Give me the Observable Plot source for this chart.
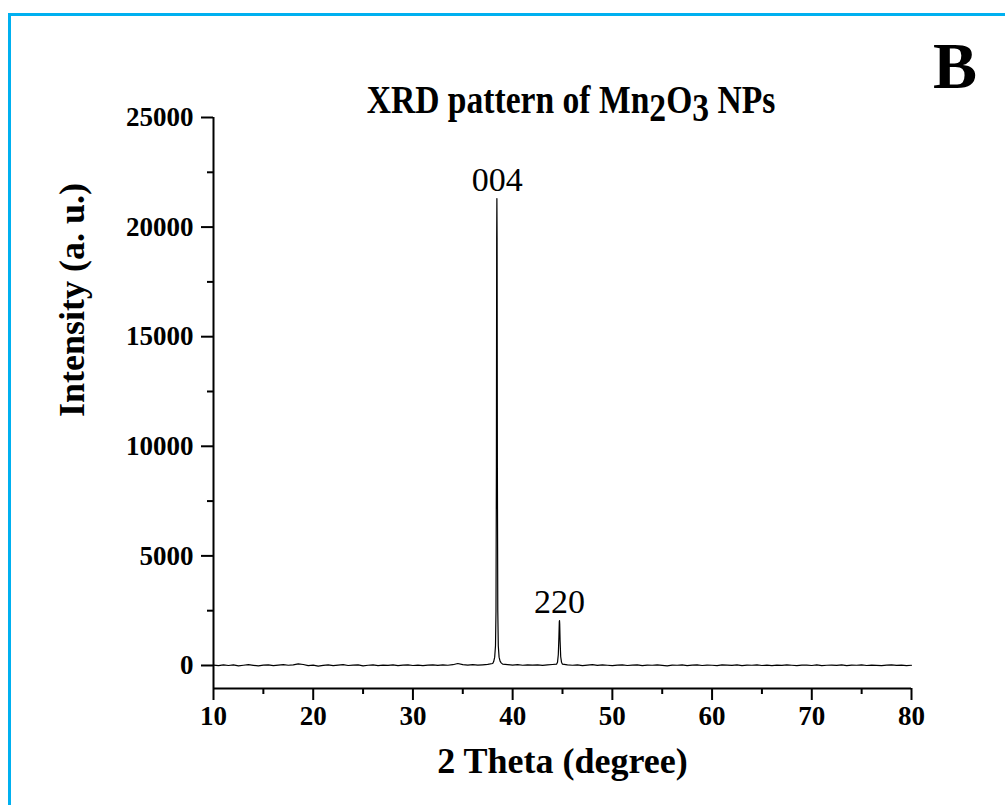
<!DOCTYPE html>
<html><head><meta charset="utf-8">
<script src="https://cdn.jsdelivr.net/npm/d3@7"></script>
<script src="https://cdn.jsdelivr.net/npm/@observablehq/plot@0.6"></script>
<style>body{margin:0;background:#fff} svg{display:block}</style>
</head><body><div id="chart"></div><script>
// Baseline segments (2θ in degrees, intensity in counts)
const base1X = [10,10.5,11,11.5,12,12.5,13,13.5,14,14.5,15,15.5,16,16.5,17,17.5,18,18.5,19,19.5,20,20.5,21,21.5,22,22.5,23,23.5,24,24.5,25,25.5,26,26.5,27,27.5,28,28.5,29,29.5,30,30.5,31,31.5,32,32.5,33,33.5,34,34.5,35,35.5,36,36.5,37,37.5];
const base1Y = [20,-10,30,0,25,-15,10,35,5,-20,15,30,-5,20,40,10,25,70,45,-10,15,-30,5,25,-10,20,35,0,15,30,-15,10,25,-5,20,5,30,-10,15,25,0,20,-10,15,30,5,25,10,35,90,40,20,35,15,30,50];
const peak004X = [38.0,38.1,38.2,38.28,38.33,38.37,38.40,38.42,38.44,38.47,38.51,38.56,38.64,38.74,38.85,39.0];
const peak004Y = [90,180,380,900,2500,9000,19500,21300,19500,9000,2500,900,380,200,120,60];
const base2X = [39.5,40,40.5,41,41.5,42,42.5,43,43.5,44];
const base2Y = [40,20,35,10,30,15,25,5,30,45];
const peak220X = [44.4,44.5,44.58,44.64,44.68,44.7,44.72,44.76,44.82,44.9,45.0];
const peak220Y = [60,150,500,1300,2000,2050,1900,1100,400,150,60];
const base3X = [45.5,46,46.5,47,47.5,48,48.5,49,49.5,50,50.5,51,51.5,52,52.5,53,53.5,54,54.5,55,55.5,56,56.5,57,57.5,58,58.5,59,59.5,60,60.5,61,61.5,62,62.5,63,63.5,64,64.5,65,65.5,66,66.5,67,67.5,68,68.5,69,69.5,70,70.5,71,71.5,72,72.5,73,73.5,74,74.5,75,75.5,76,76.5,77,77.5,78,78.5,79,79.5,80];
const base3Y = [25,10,30,-5,20,35,5,25,10,-10,20,30,0,15,25,-5,20,10,30,5,-15,20,10,25,-5,15,30,0,20,10,-10,25,15,5,30,-5,20,10,25,0,15,-10,20,5,30,10,-5,20,15,0,25,-10,10,20,5,25,-5,15,10,30,0,20,5,-10,15,25,5,20,-5,10];

const peakLabels = ["004", "220"];
const peakLabelX = [38.45, 44.7];
const peakLabelY = [21300, 2050];

const xMajorTicks = [10,20,30,40,50,60,70,80];
const xMinorTicks = [15,25,35,45,55,65,75];
const yMajorTicks = [0,5000,10000,15000,20000,25000];
const yMinorTicks = [2500,7500,12500,17500,22500];

const segs = [[base1X,base1Y],[peak004X,peak004Y],[base2X,base2Y],[peak220X,peak220Y],[base3X,base3Y]];
const data = segs.flatMap(([xs, ys]) => xs.map((x, i) => ({x, y: ys[i]}))).sort((a, b) => a.x - b.x);
const labels = peakLabels.map((t, i) => ({t, x: peakLabelX[i], y: peakLabelY[i]}));

const serif = "'Liberation Serif', 'Times New Roman', serif";

const plot = Plot.plot({
  width: 1005, height: 805,
  marginLeft: 213, marginRight: 94, marginTop: 117, marginBottom: 117,
  style: {fontFamily: serif, background: "white", color: "black"},
  x: {domain: [10, 80]},
  y: {domain: [-1050, 25000]},
  marks: [
    Plot.axisX({ticks: xMinorTicks, tickSize: 6, strokeWidth: 2, text: null, label: null}),
    Plot.axisX({ticks: xMajorTicks, tickSize: 12, tickPadding: 5, strokeWidth: 2, fontSize: 27, fontWeight: "bold", tickFormat: d => String(d), label: null}),
    Plot.axisY({ticks: yMinorTicks, tickSize: 6, strokeWidth: 2, text: null, label: null}),
    Plot.axisY({ticks: yMajorTicks, tickSize: 12, tickPadding: 8, strokeWidth: 2, fontSize: 27, fontWeight: "bold", tickFormat: d => String(d), label: null}),
    Plot.ruleX([10], {strokeWidth: 2}),
    Plot.ruleY([-1050], {strokeWidth: 2}),
    Plot.line(data, {x: "x", y: "y", stroke: "black", strokeWidth: 1.2}),
    Plot.text(labels, {x: "x", y: "y", text: "t", dy: -8, lineAnchor: "bottom", fontSize: 34, fontFamily: serif}),
    Plot.text(["2 Theta (degree)"], {frameAnchor: "bottom", dy: 84, fontSize: 36, fontWeight: "bold"}),
    Plot.text(["Intensity (a. u.)"], {frameAnchor: "left", dx: -141, dy: 14, rotate: -90, fontSize: 36, fontWeight: "bold"})
  ]
});

const svg = d3.select(plot);
svg.append("rect").attr("x", 9.5).attr("y", 14.5).attr("width", 1100).attr("height", 900)
  .attr("fill", "none").attr("stroke", "#00b0f0").attr("stroke-width", 3);
const title = svg.append("text").attr("transform", "translate(571,113) scale(0.84,1)").attr("text-anchor", "middle")
  .attr("font-family", serif).attr("font-weight", "bold").attr("font-size", 40).attr("fill", "black");
title.append("tspan").text("XRD pattern of Mn");
title.append("tspan").attr("dy", 8).text("2");
title.append("tspan").attr("dy", -8).text("O");
title.append("tspan").attr("dy", 8).text("3");
title.append("tspan").attr("dy", -8).text(" NPs");
svg.append("text").attr("x", 955).attr("y", 88).attr("text-anchor", "middle")
  .attr("font-family", serif).attr("font-weight", "bold").attr("font-size", 66).attr("fill", "black").text("B");

document.getElementById("chart").append(plot);
</script></body></html>
